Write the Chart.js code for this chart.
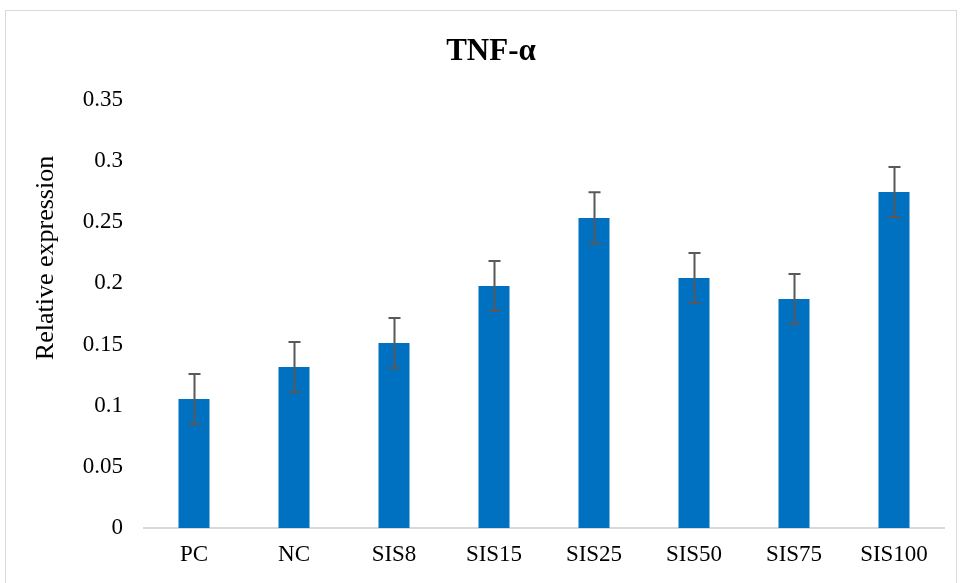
<!DOCTYPE html>
<html>
<head>
<meta charset="utf-8">
<script src="https://cdn.jsdelivr.net/npm/chart.js@4"></script>
<style>
    html, body { margin: 0; padding: 0; background: #fff; }
    .wrap { position: relative; width: 960px; height: 583px; overflow: hidden; }
    .frame { position: absolute; left: 5px; top: 10px; width: 950px; height: 600px; border: 1px solid #d9d9d9; }
    canvas { position: absolute; left: 0; top: 0; }
</style>
</head>
<body>
<div class="wrap">
    <div class="frame"></div>
    <canvas id="tnfChart" width="960" height="583"></canvas>
</div>
<script>
// values
const groups = ['PC', 'NC', 'SIS8', 'SIS15', 'SIS25', 'SIS50', 'SIS75', 'SIS100'];
const expression = [0.1055, 0.1317, 0.1513, 0.1979, 0.2535, 0.2044, 0.1873, 0.2748];
const errors = [0.0205, 0.0205, 0.0205, 0.0205, 0.021, 0.0205, 0.0205, 0.0205];
const yTicks = [0, 0.05, 0.1, 0.15, 0.2, 0.25, 0.3, 0.35];

const chartTitle = 'TNF-α';
const yTitle = 'Relative expression';

const serif = "'Liberation Serif', 'Times New Roman', serif";

// draws the +/- error whiskers on top of each bar
const errorBars = {
    id: 'errorBars',
    afterDatasetsDraw(chart) {
        const ctx = chart.ctx;
        const y = chart.scales.y;
        const meta = chart.getDatasetMeta(0);
        ctx.save();
        ctx.strokeStyle = '#595959';
        ctx.lineWidth = 2;
        meta.data.forEach((bar, i) => {
            const top = y.getPixelForValue(expression[i] + errors[i]);
            const bottom = y.getPixelForValue(expression[i] - errors[i]);
            const x = Math.round(bar.x) + 0.5;
            ctx.beginPath();
            ctx.moveTo(x, top);
            ctx.lineTo(x, bottom);
            ctx.moveTo(x - 6, top);
            ctx.lineTo(x + 6, top);
            ctx.moveTo(x - 6, bottom);
            ctx.lineTo(x + 6, bottom);
            ctx.stroke();
        });
        ctx.restore();
    }
};

// title and axis title sit where the original put them, not where Chart.js centres them
const titles = {
    id: 'titles',
    afterDraw(chart) {
        const ctx = chart.ctx;
        ctx.save();
        ctx.fillStyle = '#000';
        ctx.textAlign = 'center';
        ctx.textBaseline = 'middle';
        ctx.font = `bold 31px ${serif}`;
        ctx.fillText(chartTitle, 491, 52);
        ctx.translate(46, 258);
        ctx.rotate(-Math.PI / 2);
        ctx.font = `26px ${serif}`;
        ctx.fillText(yTitle, 0, 0);
        ctx.restore();
    }
};

new Chart(document.getElementById('tnfChart').getContext('2d'), {
    type: 'bar',
    data: {
        labels: groups,
        datasets: [{
            data: expression,
            backgroundColor: '#0070C0',
            borderWidth: 0,
            barPercentage: 0.31,
            categoryPercentage: 1
        }]
    },
    options: {
        responsive: false,
        animation: false,
        layout: { padding: { left: 0, right: 16, top: 100, bottom: 0 } },
        plugins: {
            legend: { display: false },
            tooltip: { enabled: false },
            title: { display: false }
        },
        scales: {
            x: {
                grid: { display: false, drawTicks: false },
                border: { display: true, color: '#d9d9d9', width: 2 },
                ticks: { color: '#000', padding: 13, font: { family: serif, size: 23 } },
                afterFit(scale) { scale.height = 55; }
            },
            y: {
                min: 0,
                max: 0.35,
                afterBuildTicks(scale) { scale.ticks = yTicks.map((v) => ({ value: v })); },
                grid: { display: false, drawTicks: false },
                border: { display: false },
                ticks: {
                    color: '#000',
                    padding: 21,
                    font: { family: serif, size: 23 },
                    callback: (v) => String(Number(v.toFixed(2)))
                },
                afterFit(scale) { scale.width = 144; }
            }
        }
    },
    plugins: [errorBars, titles]
});
</script>
</body>
</html>
